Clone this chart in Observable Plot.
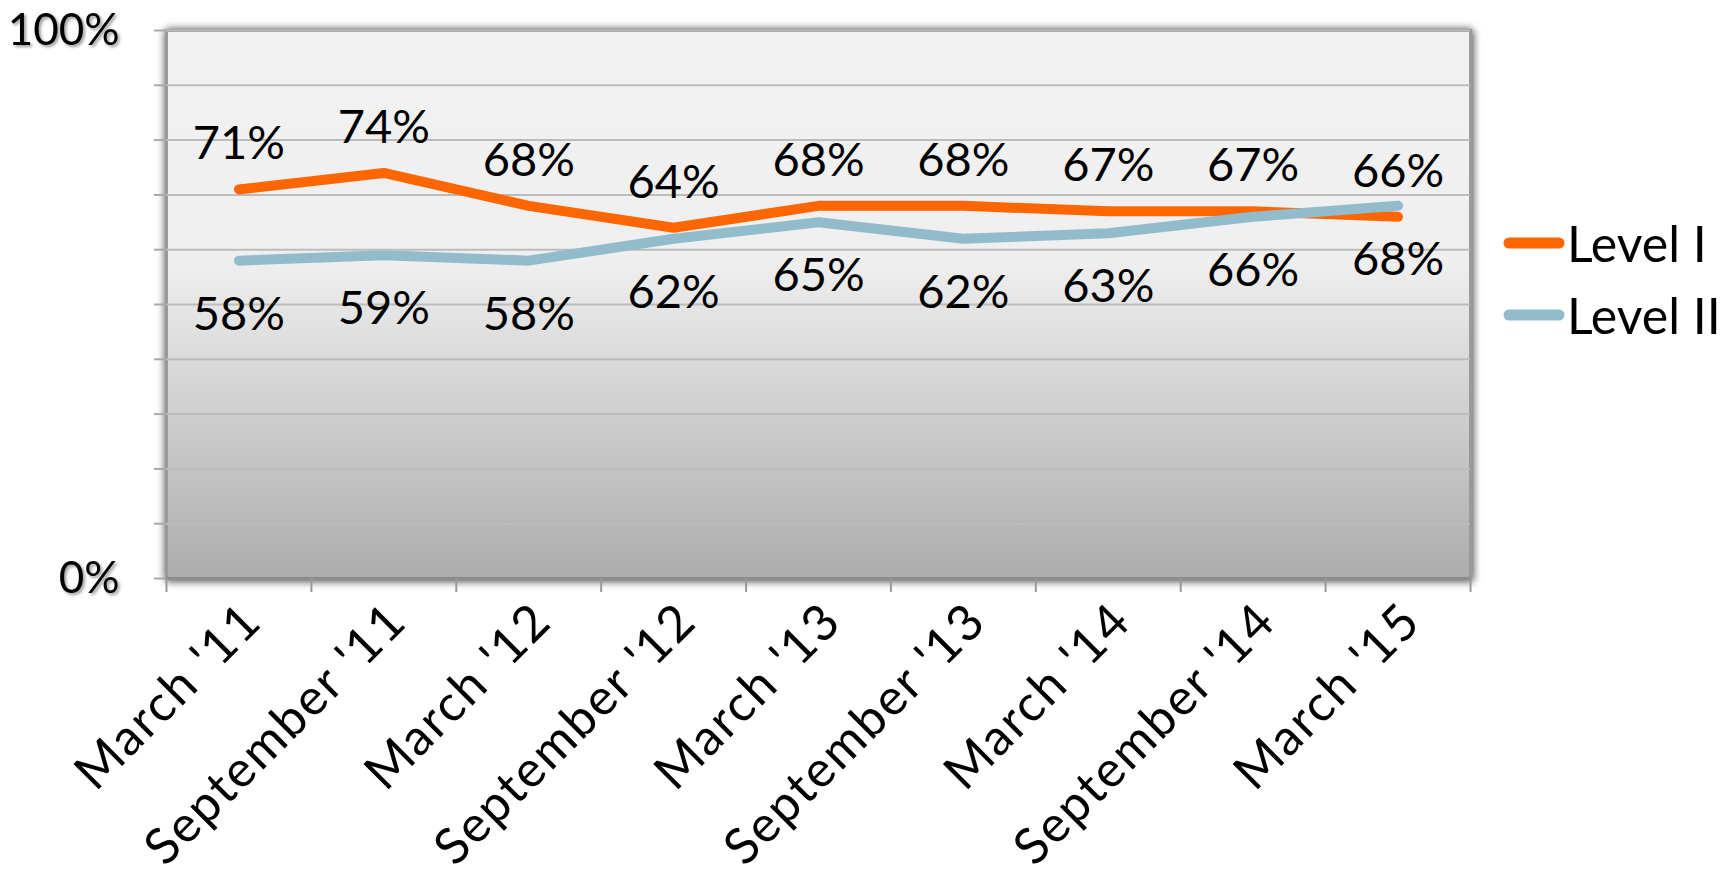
<!DOCTYPE html>
<html>
<head>
<meta charset="utf-8">
<script src="https://cdn.jsdelivr.net/npm/d3@7"></script>
<script src="https://cdn.jsdelivr.net/npm/@observablehq/plot@0.6"></script>
<style>
  html, body { margin: 0; padding: 0; background: #fff; }
  #wrap { position: relative; width: 1733px; height: 878px; overflow: hidden; font-family: Lato, "Open Sans", sans-serif; }
  .legend-item { position: absolute; left: 1503px; height: 60px; display: flex; align-items: center; font-family: Lato, sans-serif; font-size: 50px; color: #000; line-height: 60px; }
  .legend-item svg { display: block; margin-right: 2px; }
</style>
</head>
<body>
<div id="wrap"></div>
<script>
// Survey periods and the share reached at each level (percent)
const periods = ["March '11", "September '11", "March '12", "September '12", "March '13", "September '13", "March '14", "September '14", "March '15"];
const levelI  = [71, 74, 68, 64, 68, 68, 67, 67, 66];
const levelII = [58, 59, 58, 62, 65, 62, 63, 66, 68];
const yTicks = [0, 100];
const gridSteps = d3.range(0, 101, 10);

const seriesNames = ["Level I", "Level II"];
const seriesColors = ["#ff6600", "#92bccb"];

const rowsI  = periods.map((p, i) => ({i, period: p, value: levelI[i]}));
const rowsII = periods.map((p, i) => ({i, period: p, value: levelII[i]}));
const n = periods.length;

const chart = Plot.plot({
  width: 1733,
  height: 878,
  marginLeft: 166,
  marginRight: 263,
  marginTop: 30,
  marginBottom: 300,
  style: {fontFamily: "Lato, 'Open Sans', sans-serif", background: "transparent", overflow: "visible"},
  x: {domain: [-0.5, n - 0.5], label: null},
  y: {domain: [0, 100], label: null},
  marks: [
    Plot.frame({fill: "url(#plotBg)", stroke: "#9a9a9a", strokeWidth: 3}),
    Plot.gridY(gridSteps, {stroke: "#bcbcbc", strokeOpacity: 1, strokeWidth: 2}),
    // short ticks left of the frame at every gridline
    Plot.axisY(gridSteps, {tickSize: 12, tickFormat: () => "", stroke: "#a8a8a8", strokeWidth: 2, label: null}),
    Plot.axisY(yTicks, {tickSize: 0, tickPadding: 47, tickFormat: d => d + "%", fontSize: 44, fill: "#000", label: null}),
    Plot.ruleY([0], {stroke: "#8c8c8c", strokeWidth: 3}),
    // category boundary ticks under the baseline
    Plot.axisX(d3.range(n + 1).map(k => k - 0.5), {tickSize: 14, tickFormat: () => "", stroke: "#999", strokeWidth: 2, label: null}),
    Plot.axisX(d3.range(n), {tickSize: 0, tickPadding: 34, dx: 14, tickRotate: -45, tickFormat: k => periods[k], fontSize: 50, fill: "#000", label: null}),
    Plot.line(rowsI, {x: "i", y: "value", stroke: seriesColors[0], strokeWidth: 10, strokeLinecap: "round", strokeLinejoin: "round"}),
    Plot.line(rowsII, {x: "i", y: "value", stroke: seriesColors[1], strokeWidth: 10, strokeLinecap: "round", strokeLinejoin: "round"}),
    Plot.text(rowsI, {x: "i", y: "value", text: d => d.value + "%", dy: -45, fontSize: 47, fill: "#000"}),
    Plot.text(rowsII, {x: "i", y: "value", text: d => d.value + "%", dy: 54, fontSize: 47, fill: "#000"})
  ]
});

// background gradient for the plot frame
const svg = d3.select(chart);
const defs = svg.insert("defs", ":first-child");
const grad = defs.append("linearGradient").attr("id", "plotBg").attr("x1", 0).attr("y1", 0).attr("x2", 0).attr("y2", 1);
grad.append("stop").attr("offset", "0").attr("stop-color", "#f2f2f2");
grad.append("stop").attr("offset", "0.42").attr("stop-color", "#efefef");
grad.append("stop").attr("offset", "1").attr("stop-color", "#acacac");

svg.selectAll('[aria-label="frame"]').style("filter", "drop-shadow(0px 0px 4px rgba(0,0,0,0.55)) drop-shadow(2px 2px 3px rgba(0,0,0,0.3))");
svg.selectAll('[aria-label="y-axis tick label"]').style("filter", "drop-shadow(2px 2px 1.5px rgba(0,0,0,0.4))");
svg.selectAll('[aria-label="x-axis tick label"] text').style("letter-spacing", "2px");

const wrap = document.getElementById("wrap");
wrap.appendChild(chart);

// legend: line swatch + series name
const legendTops = [213, 285];
seriesNames.forEach((name, k) => {
  const item = document.createElement("div");
  item.className = "legend-item";
  item.style.top = legendTops[k] + "px";
  item.innerHTML = `<svg width="62" height="14"><line x1="6" y1="7" x2="56" y2="7" stroke="${seriesColors[k]}" stroke-width="11" stroke-linecap="round"/></svg><span>${name}</span>`;
  wrap.appendChild(item);
});
</script>
</body>
</html>
